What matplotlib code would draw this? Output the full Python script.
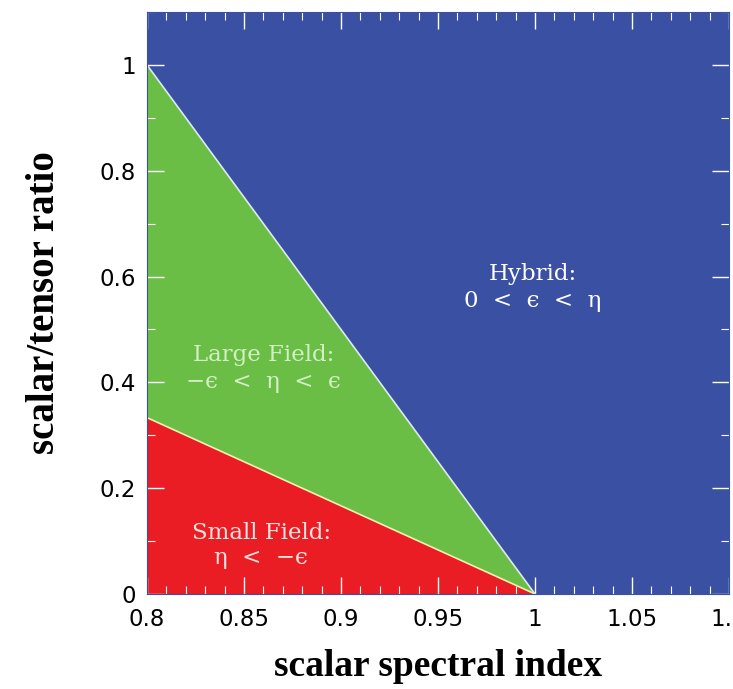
import matplotlib.pyplot as plt

# region boundaries (scalar spectral index n, tensor ratio r)
n_edge = [0.8, 1.0]
r_large = [1.0, 0.0]     # large field / hybrid boundary
r_small = [1/3, 0.0]     # small field / large field boundary
xlim = [0.8, 1.1]
ylim = [0.0, 1.1]
xticks = [0.8, 0.85, 0.9, 0.95, 1.0, 1.05, 1.1]
xlabels = ["0.8", "0.85", "0.9", "0.95", "1", "1.05", "1.1"]
yticks = [0, 0.2, 0.4, 0.6, 0.8, 1.0]
ylabels = ["0", "0.2", "0.4", "0.6", "0.8", "1"]

blue = "#3a50a3"
green = "#6abe45"
red = "#ea1c24"

fig = plt.figure(figsize=(7.33, 6.89), dpi=100)
ax = fig.add_axes([0.2005, 0.1379, 0.794, 0.8447])
ax.set_facecolor(blue)

ax.fill_between(n_edge, r_small, r_large, color=green, lw=0)
ax.fill_between(n_edge, [0, 0], r_small, color=red, lw=0)
ax.plot(n_edge, r_large, color="#dde8f0", lw=1.2)
ax.plot(n_edge, r_small, color="#f4f0b0", lw=1.2)

ax.set_xlim(xlim)
ax.set_ylim(ylim)
ax.set_xticks(xticks)
ax.set_xticklabels(xlabels)
ax.set_yticks(yticks)
ax.set_yticklabels(ylabels)
ax.set_xticks([0.8 + 0.01 * i for i in range(31)], minor=True)
ax.set_yticks([0.1 * i for i in range(12)], minor=True)
ax.tick_params(which="both", direction="in", color="white", top=True, right=True, labelsize=16.5)
ax.tick_params(which="major", length=12, width=1)
ax.tick_params(which="minor", length=6, width=0.8)
ax.tick_params(axis="x", which="major", pad=10)
ax.tick_params(axis="y", which="major", pad=8)
for s in ax.spines.values():
    s.set_color(blue)

ax.set_xlabel("scalar spectral index", family="Liberation Serif", weight="bold", fontsize=27, labelpad=13)
ax.set_ylabel("scalar/tensor ratio", family="Liberation Serif", weight="bold", fontsize=28, labelpad=26)

tfont = dict(family="DejaVu Serif", fontsize=16.5, ha="center", va="center")
ax.text(0.999, 0.605, "Hybrid:", color="white", **tfont)
ax.text(0.999, 0.553, "0  <  ϵ  <  η", color="white", **tfont)
ax.text(0.86, 0.452, "Large Field:", color="#d4efc4", **tfont)
ax.text(0.86, 0.40, "−ϵ  <  η  <  ϵ", color="#d4efc4", **tfont)
ax.text(0.859, 0.115, "Small Field:", color="#fbe4e0", **tfont)
ax.text(0.859, 0.068, "η  <  −ϵ", color="#fbe4e0", **tfont)

fig.savefig("out.png", dpi=100)
